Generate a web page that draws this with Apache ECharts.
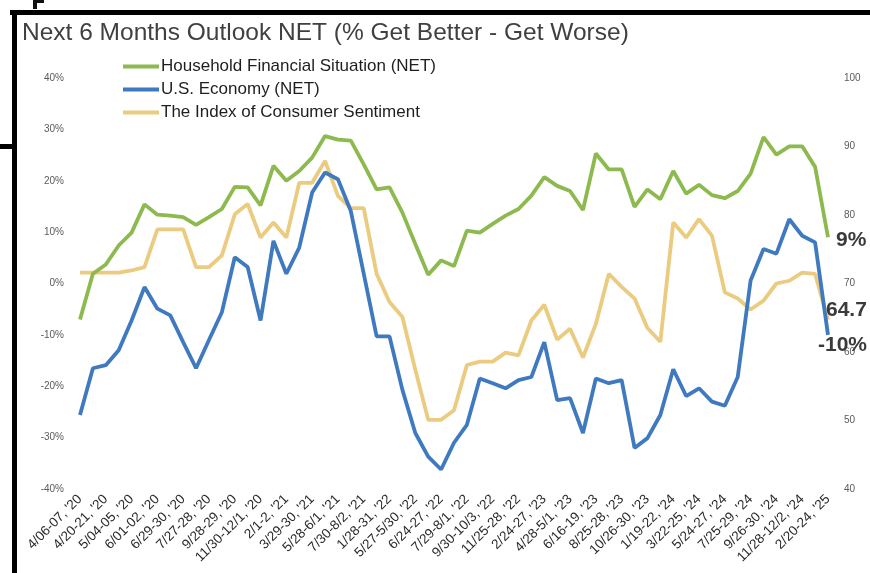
<!DOCTYPE html>
<html>
<head>
<meta charset="utf-8">
<script src="https://cdn.jsdelivr.net/npm/echarts@6/dist/echarts.min.js"></script>
<style>
  html, body { margin: 0; padding: 0; background: #fff; }
  #chart { width: 870px; height: 573px; }
</style>
</head>
<body>
<div id="chart"></div>
<script>
// Survey waves: only every other wave carries a tick label
const tickLabels = [
  "4/06-07, '20", "4/20-21, '20", "5/04-05, '20", "6/01-02, '20", "6/29-30, '20",
  "7/27-28, '20", "9/28-29, '20", "11/30-12/1, '20", "2/1-2, '21", "3/29-30, '21",
  "5/28-6/1, '21", "7/30-8/2, '21", "1/28-31, '22", "5/27-5/30, '22", "6/24-27, '22",
  "7/29-8/1, '22", "9/30-10/3, '22", "11/25-28, '22", "2/24-27, '23", "4/28-5/1, '23",
  "6/16-19, '23", "8/25-28, '23", "10/26-30, '23", "1/19-22, '24", "3/22-25, '24",
  "5/24-27, '24", "7/25-29, '24", "9/26-30, '24", "11/28-12/2, '24", "2/20-24, '25"
];

// NET % (get better minus get worse)
const householdNet = [
  -7.0, 1.9, 3.7, 7.4, 9.9, 15.4, 13.4, 13.2, 12.9, 11.4,
  12.9, 14.5, 18.8, 18.7, 15.2, 22.9, 20.0, 21.9, 24.5, 28.7,
  28.0, 27.8, 23.2, 18.3, 18.7, 13.8, 7.7, 1.7, 4.5, 3.4,
  10.3, 9.9, 11.6, 13.2, 14.5, 17.1, 20.7, 19.0, 18.0, 14.3,
  25.3, 22.2, 22.2, 14.9, 18.3, 16.4, 21.9, 17.5, 19.2, 17.2,
  16.6, 18.0, 21.4, 28.5, 25.1, 26.7, 26.7, 22.7, 9
];

const economyNet = [
  -25.6, -16.5, -15.9, -13.0, -7.2, -0.7, -4.9, -6.2, -11.4, -16.5,
  -11.0, -5.6, 5.1, 3.2, -7.2, 8.3, 1.9, 7.0, 17.7, 21.6,
  20.3, 14.1, 1.9, -10.3, -10.3, -20.7, -29.1, -33.7, -36.2, -31.0,
  -27.5, -18.5, -19.4, -20.4, -18.8, -18.2, -11.4, -22.7, -22.3, -29.1,
  -18.5, -19.4, -18.8, -32.0, -30.1, -25.6, -16.7, -21.9, -20.4, -23.0,
  -23.8, -18.2, 0.6, 6.7, 5.8, 12.5, 9.3, 8.0, -10
];

// Index of Consumer Sentiment (right axis)
const sentimentIndex = [
  71.6, 71.6, 71.6, 71.6, 71.9, 72.4, 77.9, 77.9, 77.9, 72.4,
  72.4, 74.1, 80.1, 81.6, 76.7, 78.9, 76.7, 84.7, 84.7, 87.9,
  82.8, 81.0, 81.0, 71.4, 67.3, 65.1, 57.4, 50.1, 50.1, 51.5,
  58.1, 58.6, 58.6, 59.9, 59.5, 64.6, 66.9, 61.8, 63.4, 59.2,
  64.1, 71.4, 69.5, 67.8, 63.5, 61.5, 78.9, 76.7, 79.4, 77.0,
  68.7, 67.8, 66.2, 67.5, 70.0, 70.4, 71.6, 71.4, 64.7
];

// One category per wave; odd waves are unlabelled
const categories = householdNet.map((_, i) => (i % 2 === 0 ? tickLabels[i / 2] : ''));

const GREEN = '#8dba4f';
const BLUE = '#3f79c0';
const GOLD = '#ebcb7f';
const FONT = 'Liberation Sans, Arial, sans-serif';

const chart = echarts.init(document.getElementById('chart'));

const endLabelStyle = {
  fontFamily: FONT,
  fontSize: 21,
  fontWeight: 'bold',
  color: '#3a3a3a'
};

chart.setOption({
  animation: false,
  backgroundColor: '#fff',
  title: {
    text: 'Next 6 Months Outlook NET (% Get Better - Get Worse)',
    left: 22,
    top: 21,
    padding: 0,
    textStyle: {
      fontFamily: FONT,
      fontSize: 24.5,
      fontWeight: 'normal',
      color: '#404040'
    }
  },
  legend: {
    orient: 'vertical',
    left: 123,
    top: 58,
    padding: 0,
    icon: 'rect',
    itemWidth: 36,
    itemHeight: 4,
    itemGap: 6,
    textStyle: {
      fontFamily: FONT,
      fontSize: 17,
      color: '#1e1e1e',
      padding: [0, 0, 0, -3]
    },
    data: ['Household Financial Situation (NET)', 'U.S. Economy (NET)', 'The Index of Consumer Sentiment']
  },
  grid: { left: 80, right: 42, top: 78, bottom: 84, containLabel: false },
  xAxis: {
    type: 'category',
    data: categories,
    boundaryGap: false,
    axisLine: { show: false },
    axisTick: { show: false },
    splitLine: { show: false },
    axisLabel: {
      interval: 0,
      rotate: 45,
      margin: 8,
      fontFamily: FONT,
      fontSize: 13.5,
      color: '#2a2a2a'
    }
  },
  yAxis: [
    {
      type: 'value',
      min: -40,
      max: 40,
      interval: 10,
      axisLine: { show: false },
      axisTick: { show: false },
      splitLine: { show: false },
      axisLabel: {
        margin: 16,
        formatter: '{value}%',
        fontFamily: FONT,
        fontSize: 10,
        color: '#5a5a5a'
      }
    },
    {
      type: 'value',
      min: 40,
      max: 100,
      interval: 10,
      position: 'right',
      axisLine: { show: false },
      axisTick: { show: false },
      splitLine: { show: false },
      axisLabel: {
        margin: 16,
        fontFamily: FONT,
        fontSize: 10,
        color: '#5a5a5a'
      }
    }
  ],
  series: [
    {
      name: 'Household Financial Situation (NET)',
      type: 'line',
      yAxisIndex: 0,
      data: householdNet,
      symbol: 'none',
      z: 3,
      lineStyle: { width: 3.8, color: GREEN },
      itemStyle: { color: GREEN },
      endLabel: Object.assign({
        show: true,
        distance: 8,
        offset: [0, 3],
        formatter: (p) => p.value + '%'
      }, endLabelStyle)
    },
    {
      name: 'U.S. Economy (NET)',
      type: 'line',
      yAxisIndex: 0,
      data: economyNet,
      symbol: 'none',
      z: 4,
      lineStyle: { width: 3.8, color: BLUE },
      itemStyle: { color: BLUE },
      endLabel: Object.assign({
        show: true,
        distance: 0,
        offset: [-10, 10],
        formatter: (p) => p.value + '%'
      }, endLabelStyle)
    },
    {
      name: 'The Index of Consumer Sentiment',
      type: 'line',
      yAxisIndex: 1,
      data: sentimentIndex,
      symbol: 'none',
      z: 2,
      lineStyle: { width: 3.8, color: GOLD },
      itemStyle: { color: GOLD },
      endLabel: Object.assign({
        show: true,
        distance: 0,
        offset: [-2, -10],
        formatter: (p) => String(p.value)
      }, endLabelStyle)
    }
  ],
  graphic: [
    // page frame
    { type: 'rect', shape: { x: 10, y: 10, width: 860, height: 5 }, style: { fill: '#000' }, silent: true },
    { type: 'rect', shape: { x: 12, y: 10, width: 5, height: 563 }, style: { fill: '#000' }, silent: true },
    { type: 'rect', shape: { x: 0, y: 144, width: 14, height: 5 }, style: { fill: '#000' }, silent: true },
    { type: 'rect', shape: { x: 33, y: 0, width: 4, height: 9 }, style: { fill: '#111' }, silent: true },
    { type: 'rect', shape: { x: 36, y: 0, width: 8, height: 3 }, style: { fill: '#111' }, silent: true }
  ]
});
</script>
</body>
</html>
